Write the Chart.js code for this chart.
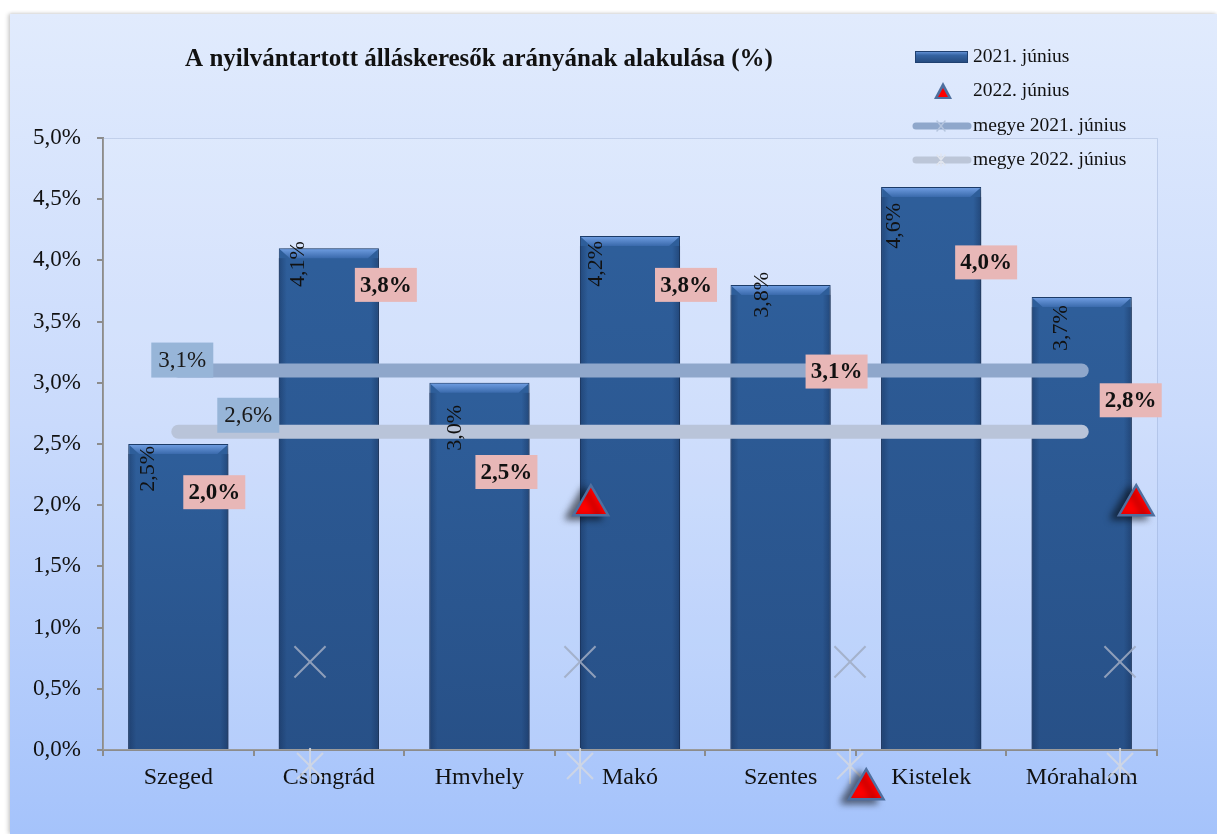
<!DOCTYPE html>
<html lang="hu">
<head>
<meta charset="utf-8">
<script src="https://cdn.jsdelivr.net/npm/chart.js@4/dist/chart.umd.min.js"></script>
<style>
  html, body { margin: 0; padding: 0; background: #ffffff; overflow: hidden; }
  .keret {
    position: absolute; left: 10px; top: 14px; width: 1207px; height: 820px;
    background: linear-gradient(to bottom, #e1ebfd 0%, #c9dafc 50%, #a5c3fb 100%);
    box-shadow: -2px 0 4px rgba(0,0,0,0.18), 0 -1px 3px rgba(0,0,0,0.08);
  }
  canvas { position: absolute; left: 0; top: 0; }
</style>
</head>
<body>
<div class="keret"></div>
<canvas id="allasChart" width="1217" height="834"></canvas>
<script>
const telepulesek = ["Szeged", "Csongrád", "Hmvhely", "Makó", "Szentes", "Kistelek", "Mórahalom"];
const junius2021 = [2.5, 4.1, 3.0, 4.2, 3.8, 4.6, 3.7];
const junius2022 = [2.0, 3.8, 2.5, 3.8, 3.1, 4.0, 2.8];
const megye2021 = [3.1, 3.1, 3.1, 3.1, 3.1, 3.1, 3.1];
const megye2022 = [2.6, 2.6, 2.6, 2.6, 2.6, 2.6, 2.6];

// a szétcsúszott jelölők (másodlagos vízszintes tengelyen)
const haromszogek2022 = [{ x: 2.04, y: 2.0 }, { x: 3.06, y: -0.32 }, { x: 4.06, y: 2.0 }];
const jelolokMegye2021 = [{ x: 1, y: 0.72 }, { x: 2, y: 0.72 }, { x: 3, y: 0.72 }, { x: 4, y: 0.72 }];
const jelolokMegye2022 = [{ x: 1, y: -0.13 }, { x: 2, y: -0.13 }, { x: 3, y: -0.13 }, { x: 4, y: -0.13 }];

const yTicks = [0, 0.5, 1, 1.5, 2, 2.5, 3, 3.5, 4, 4.5, 5];

const betu = "'Liberation Serif', 'Times New Roman', serif";

const junius2021Label = "2021. június";
const junius2022Label = "2022. június";
const megye2021Label = "megye 2021. június";
const megye2022Label = "megye 2022. június";

function szazalek(v) {
    return v.toFixed(1).replace(".", ",") + "%";
}

// oszlopfeliratok és 2022-es címkék eltolása (px)
const oszlopCimkeEltolas = [[-30, 2], [-31, -7], [-24, 22], [-34, 5], [-18, -13], [-37, 16], [-20, 8]];
const cimke2022Eltolas = [[36, -13], [57, 0], [27, 28], [56, 0], [56, 1], [55, 2], [49, -7]];

// hatágú csillag jelölő: X + függőleges vonal
function csillagKep(r, szin) {
    const c = document.createElement("canvas");
    c.width = c.height = r * 2 + 4;
    const g = c.getContext("2d");
    const m = r + 2, d = r * 0.72;
    g.strokeStyle = szin;
    g.lineWidth = 2;
    g.beginPath();
    g.moveTo(m - d, m - d); g.lineTo(m + d, m + d);
    g.moveTo(m + d, m - d); g.lineTo(m - d, m + d);
    g.moveTo(m, m - r); g.lineTo(m, m + r);
    g.stroke();
    return c;
}

const arnyekPlugin = {
    id: "arnyek",
    beforeDatasetDraw(chart, args) {
        const ctx = chart.ctx;
        if (args.index === 0) {
            ctx.save();
            ctx.shadowColor = "rgba(0,0,0,0.35)";
            ctx.shadowBlur = 6;
            ctx.shadowOffsetX = 2;
            ctx.shadowOffsetY = 2;
            return;
        }
        if (args.meta.xAxisID !== "x2") return;
        // a jelölők a rajzterületen kívül is látszanak
        ctx.save();
        if (args.index === 1) {
            ctx.shadowColor = "rgba(0,0,0,0.55)";
            ctx.shadowBlur = 7;
            ctx.shadowOffsetX = -7;
            ctx.shadowOffsetY = 3;
        }
        args.meta.data.forEach(p => p.draw(ctx));
        ctx.restore();
        return false;
    },
    afterDatasetDraw(chart, args) {
        if (args.index !== 0) return;
        const ctx = chart.ctx;
        ctx.restore();
        // kiemelt tetejű oszlopok
        chart.getDatasetMeta(0).data.forEach(bar => {
            const l = bar.x - bar.width / 2, r = bar.x + bar.width / 2, t = bar.y;
            const g = ctx.createLinearGradient(0, t, 0, t + 10);
            g.addColorStop(0, "#72a0e4");
            g.addColorStop(1, "#3a6aac");
            ctx.fillStyle = g;
            ctx.beginPath();
            ctx.moveTo(l + 1, t + 1);
            ctx.lineTo(r - 1, t + 1);
            ctx.lineTo(r - 11, t + 10);
            ctx.lineTo(l + 11, t + 10);
            ctx.closePath();
            ctx.fill();
            const s = ctx.createLinearGradient(l, 0, r, 0);
            s.addColorStop(0, "rgba(20,45,85,0.45)");
            s.addColorStop(0.08, "rgba(20,45,85,0)");
            s.addColorStop(0.92, "rgba(20,45,85,0)");
            s.addColorStop(1, "rgba(20,45,85,0.45)");
            ctx.fillStyle = s;
            ctx.fillRect(l, t + 10, r - l, bar.base - t - 10);
            const v = ctx.createLinearGradient(0, t + 10, 0, bar.base);
            v.addColorStop(0, "rgba(20,40,80,0)");
            v.addColorStop(1, "rgba(20,40,80,0.25)");
            ctx.fillStyle = v;
            ctx.fillRect(l, t + 10, r - l, bar.base - t - 10);
        });
    }
};

const rajzPlugin = {
    id: "rajz",
    beforeDatasetsDraw(chart) {
        const { ctx, chartArea: a } = chart;
        ctx.save();
        ctx.fillStyle = "rgba(255,255,255,0.12)";
        ctx.fillRect(a.left, a.top, a.right - a.left, a.bottom - a.top);
        ctx.strokeStyle = "rgba(140,160,200,0.35)";
        ctx.lineWidth = 1;
        ctx.beginPath();
        ctx.moveTo(a.left, a.top + 0.5);
        ctx.lineTo(a.right + 0.5, a.top + 0.5);
        ctx.lineTo(a.right + 0.5, a.bottom);
        ctx.stroke();
        ctx.restore();
    },
    afterDatasetsDraw(chart) {
        const ctx = chart.ctx;
        const xs = chart.scales.x, ys = chart.scales.y;
        ctx.save();

        // oszlopok függőleges feliratai
        ctx.font = "22px " + betu;
        ctx.fillStyle = "#111";
        ctx.textAlign = "right";
        ctx.textBaseline = "middle";
        chart.getDatasetMeta(0).data.forEach((bar, i) => {
            const o = oszlopCimkeEltolas[i];
            ctx.save();
            ctx.translate(bar.x + o[0], bar.y + o[1]);
            ctx.rotate(-Math.PI / 2);
            ctx.fillText(szazalek(junius2021[i]), 0, 0);
            ctx.restore();
        });

        // megyei címkék
        ctx.textAlign = "center";
        ctx.font = "23px " + betu;
        [[megye2021, 0, 4, -11], [megye2022, 0, 70, -17]].forEach(([sor, i, dx, dy]) => {
            const cx = xs.getPixelForValue(i) + dx, cy = ys.getPixelForValue(sor[i]) + dy;
            ctx.fillStyle = "#97b5d8";
            ctx.fillRect(cx - 31, cy - 17, 62, 35);
            ctx.fillStyle = "#1a1a1a";
            ctx.fillText(szazalek(sor[i]), cx, cy + 1);
        });

        // 2022-es címkék
        ctx.font = "bold 23px " + betu;
        junius2022.forEach((v, i) => {
            const o = cimke2022Eltolas[i];
            const cx = xs.getPixelForValue(i) + o[0], cy = ys.getPixelForValue(v) + o[1];
            ctx.fillStyle = "#e8b7b7";
            ctx.fillRect(cx - 31, cy - 17, 62, 34);
            ctx.fillStyle = "#111";
            ctx.fillText(szazalek(v), cx, cy + 1);
        });

        ctx.restore();
    },
    afterDraw(chart) {
        const ctx = chart.ctx;
        ctx.save();
        // cím
        ctx.font = "bold 25px " + betu;
        ctx.fillStyle = "#111";
        ctx.textAlign = "center";
        ctx.textBaseline = "middle";
        ctx.fillText("A nyilvántartott álláskeresők arányának alakulása (%)", 479, 60);

        // jelmagyarázat
        ctx.font = "19.5px " + betu;
        ctx.textAlign = "left";
        const tx = 973;
        const g = ctx.createLinearGradient(0, 51, 0, 63);
        g.addColorStop(0, "#6d9be0");
        g.addColorStop(0.35, "#3564a3");
        g.addColorStop(1, "#24497c");
        ctx.fillStyle = g;
        ctx.fillRect(915, 51, 53, 12);
        ctx.strokeStyle = "#1f4070";
        ctx.lineWidth = 1;
        ctx.strokeRect(915.5, 51.5, 52, 11);
        ctx.fillStyle = "#111";
        ctx.fillText(junius2021Label, tx, 57);

        ctx.fillStyle = "#4d6f9f";
        ctx.beginPath();
        ctx.moveTo(943, 82); ctx.lineTo(952, 99); ctx.lineTo(934, 99); ctx.closePath();
        ctx.fill();
        ctx.fillStyle = "#ff0000";
        ctx.beginPath();
        ctx.moveTo(943, 88); ctx.lineTo(948, 97); ctx.lineTo(938, 97); ctx.closePath();
        ctx.fill();
        ctx.fillStyle = "#111";
        ctx.fillText(junius2022Label, tx, 91);

        [[126, "#8fa7cb", "#b5c5de", false, megye2021Label], [160, "#bcc6d8", "#e0e5ee", true, megye2022Label]].forEach(([y, c, m, csillag, txt]) => {
            ctx.strokeStyle = c;
            ctx.lineWidth = 7;
            ctx.lineCap = "round";
            ctx.beginPath();
            ctx.moveTo(916, y); ctx.lineTo(968, y);
            ctx.stroke();
            ctx.strokeStyle = m;
            ctx.lineWidth = 1.5;
            ctx.beginPath();
            ctx.moveTo(937, y - 5); ctx.lineTo(945, y + 5);
            ctx.moveTo(945, y - 5); ctx.lineTo(937, y + 5);
            if (csillag) { ctx.moveTo(941, y - 6); ctx.lineTo(941, y + 6); }
            ctx.stroke();
            ctx.fillStyle = "#111";
            ctx.fillText(txt, tx, y);
        });
        ctx.restore();
    }
};

new Chart(document.getElementById("allasChart"), {
    data: {
        labels: telepulesek,
        datasets: [
            {
                type: "bar",
                label: junius2021Label,
                data: junius2021,
                backgroundColor: "#2e5e9a",
                borderColor: "#1f4070",
                borderWidth: 1,
                grouped: false,
                barPercentage: 0.665,
                categoryPercentage: 1,
                order: 3
            },
            {
                type: "line",
                label: junius2022Label,
                data: haromszogek2022,
                xAxisID: "x2",
                showLine: false,
                pointStyle: "triangle",
                pointRadius: 20,
                pointBackgroundColor: "#ff0000",
                pointBorderColor: "#4f6f9f",
                pointBorderWidth: 2.5,
                clip: false,
                order: 0
            },
            {
                type: "line",
                label: megye2021Label,
                data: megye2021,
                borderColor: "#8fa7cb",
                borderWidth: 14,
                borderCapStyle: "round",
                pointRadius: 0,
                order: 2
            },
            {
                type: "line",
                label: megye2022Label,
                data: megye2022,
                borderColor: "#b9c4d9",
                borderWidth: 14,
                borderCapStyle: "round",
                pointRadius: 0,
                order: 2
            },
            {
                type: "line",
                label: "megye 2021 jelölő",
                data: jelolokMegye2021,
                xAxisID: "x2",
                showLine: false,
                pointStyle: "crossRot",
                pointRadius: 22,
                pointBorderColor: "rgba(160,172,194,0.85)",
                pointBorderWidth: 2,
                clip: false,
                order: 1
            },
            {
                type: "line",
                label: "megye 2022 jelölő",
                data: jelolokMegye2022,
                xAxisID: "x2",
                showLine: false,
                pointStyle: csillagKep(18, "rgba(210,215,226,0.9)"),
                pointRadius: 18,
                clip: false,
                order: 1
            }
        ]
    },
    options: {
        responsive: false,
        animation: false,
        layout: { padding: { left: 0, top: 138, right: 60, bottom: 0 } },
        plugins: {
            legend: { display: false },
            title: { display: false },
            tooltip: { enabled: false }
        },
        scales: {
            x: {
                offset: true,
                grid: { display: true, offset: true, drawOnChartArea: false, tickLength: 6, color: "#8c8c8c", lineWidth: 2 },
                border: { color: "#8c8c8c", width: 2 },
                ticks: { color: "#111", font: { family: betu, size: 24 }, padding: 7, maxRotation: 0 },
                afterFit: s => { s.height = 84; }
            },
            x2: {
                type: "linear",
                display: false,
                min: 0.2333,
                max: 4.137
            },
            y: {
                min: 0,
                max: 5,
                afterBuildTicks: s => { s.ticks = yTicks.map(v => ({ value: v })); },
                grid: { drawOnChartArea: false, tickLength: 6, color: "#8c8c8c", lineWidth: 2 },
                border: { color: "#8c8c8c", width: 2 },
                ticks: { color: "#111", font: { family: betu, size: 23 }, padding: 16, callback: v => szazalek(v) },
                afterFit: s => { s.width = 103; }
            }
        }
    },
    plugins: [arnyekPlugin, rajzPlugin]
});
</script>
</body>
</html>
